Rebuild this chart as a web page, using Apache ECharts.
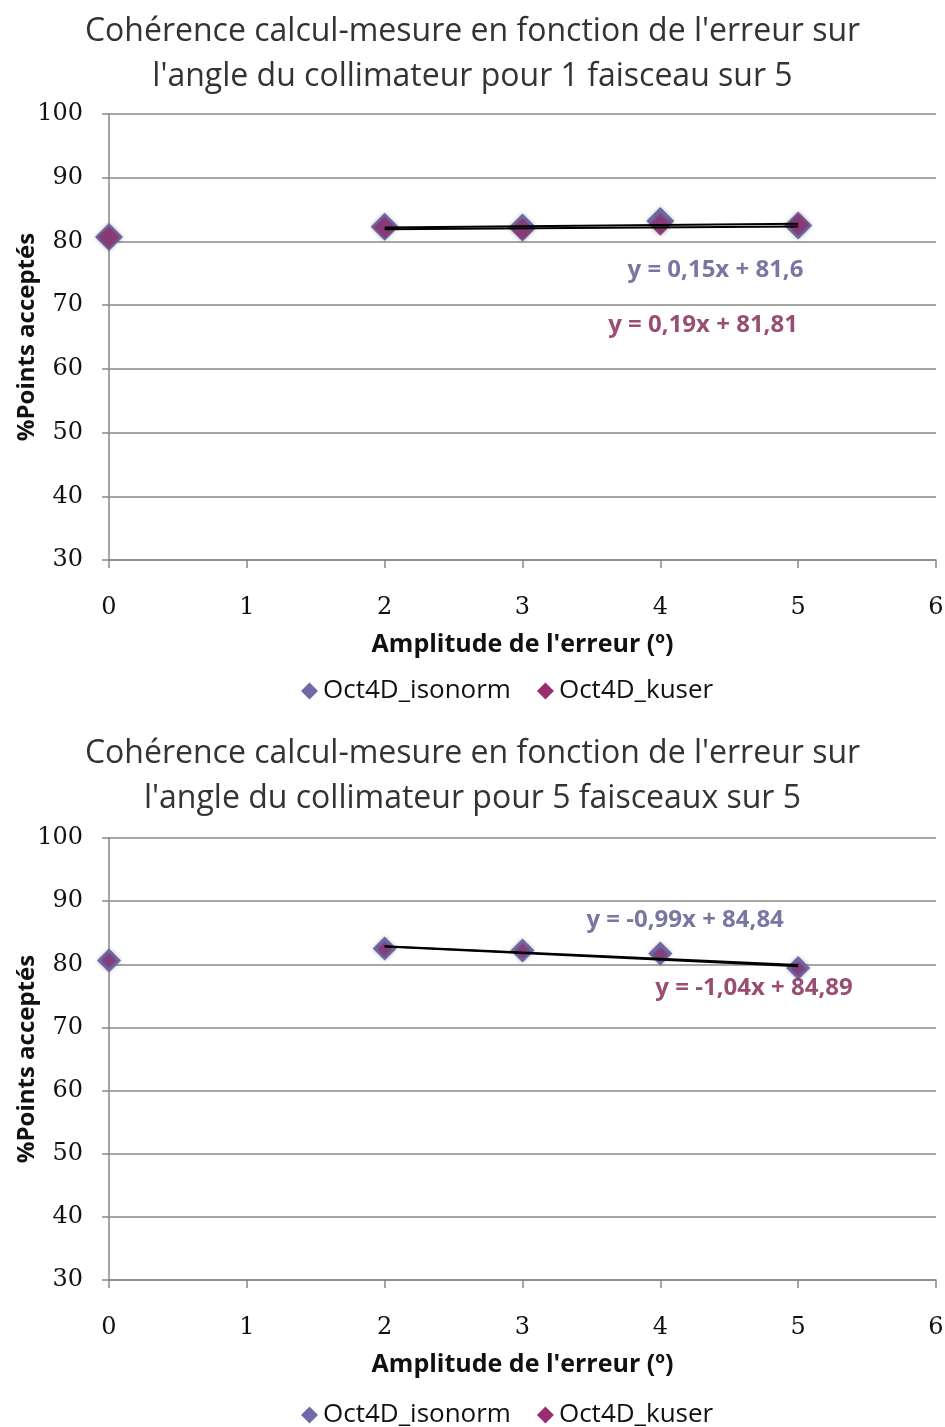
<!DOCTYPE html>
<html><head><meta charset="utf-8">
<script src="https://cdn.jsdelivr.net/npm/echarts@6/dist/echarts.min.js"></script>
<style>html,body{margin:0;padding:0;background:#fff}#c{width:945px;height:1427px}</style>
</head><body><div id="c"></div>
<script>
// ---- data ----
const xValues = [0, 2, 3, 4, 5];
const topIsonorm = [80.7, 82.3, 82.2, 83.2, 82.5];
const topKuser = [80.6, 82.2, 81.9, 82.6, 82.6];
const bottomIsonorm = [80.6, 82.5, 82.2, 81.7, 79.4];
const bottomKuser = [80.6, 82.4, 82.1, 81.5, 79.3];
const trendX = [2, 5];
const topTrendIsonorm = [81.9, 82.35];
const topTrendKuser = [82.19, 82.76];
const bottomTrendIsonorm = [82.86, 79.89];
const bottomTrendKuser = [82.81, 79.69];
const topTitle = "Cohérence calcul-mesure en fonction de l'erreur sur\nl'angle du collimateur pour 1 faisceau sur 5";
const bottomTitle = "Cohérence calcul-mesure en fonction de l'erreur sur\nl'angle du collimateur pour 5 faisceaux sur 5";
const seriesNames = ["Oct4D_isonorm", "Oct4D_kuser"];
const topEquations = ["y = 0,15x + 81,6", "y = 0,19x + 81,81"];
const bottomEquations = ["y = -0,99x + 84,84", "y = -1,04x + 84,89"];
const topEqPos = [[4.40, 75.5], [4.31, 66.9]];
const bottomEqPos = [[4.18, 87.0], [4.68, 76.2]];

const ISO = '#6f6aa6', KUS = '#9b2d6e';
const ISO_TXT = '#56558c', KUS_TXT = '#80204f';
const pair = (xs, ys) => xs.map((x, i) => [x, ys[i]]);

const chart = echarts.init(document.getElementById('c'), null, {renderer: 'canvas'});

function xAxis(gi) {
  return {
    gridIndex: gi, type: 'value', min: 0, max: 6, interval: 1,
    name: "Amplitude de l'erreur (º)", nameLocation: 'middle', nameGap: 72,
    nameTextStyle: {fontFamily: 'Open Sans', fontWeight: 'bold', fontSize: 25, color: '#111'},
    axisLine: {show: true, onZero: false, lineStyle: {color: '#888', width: 1.5}},
    axisTick: {show: true, length: 8, lineStyle: {color: '#888', width: 1.5}},
    axisLabel: {fontFamily: 'DejaVu Serif', fontSize: 24, color: '#111', margin: 36},
    splitLine: {show: false}
  };
}
function yAxis(gi) {
  return {
    gridIndex: gi, type: 'value', min: 30, max: 100, interval: 10,
    name: '%Points acceptés', nameLocation: 'middle', nameGap: 70, nameMoveOverlap: false,
    nameTextStyle: {fontFamily: 'Open Sans', fontWeight: 'bold', fontSize: 24, color: '#111'},
    axisLine: {show: true, onZero: false, lineStyle: {color: '#888', width: 1.5}},
    axisTick: {show: true, length: 7, lineStyle: {color: '#888', width: 1.5}},
    axisLabel: {fontFamily: 'DejaVu Serif', fontSize: 24, color: '#111', margin: 26},
    splitLine: {show: true, lineStyle: {color: '#8a8a8a', width: 1.5}}
  };
}
function scatter(name, gi, data, color, size, opacity, z) {
  return {
    name, type: 'scatter', xAxisIndex: gi, yAxisIndex: gi, data,
    symbol: 'diamond', symbolSize: size, z,
    itemStyle: {color, opacity, shadowBlur: 4, shadowColor: 'rgba(0,0,0,0.25)'}
  };
}
function trend(gi, data) {
  return {
    type: 'line', xAxisIndex: gi, yAxisIndex: gi, data, symbol: 'none', z: 5,
    lineStyle: {color: '#000', width: 2}, silent: true
  };
}
function eqLabels(gi, texts, pos) {
  return {
    type: 'scatter', xAxisIndex: gi, yAxisIndex: gi, silent: true, z: 10,
    symbolSize: 1, itemStyle: {color: 'rgba(0,0,0,0)'},
    data: texts.map((t, i) => ({
      value: pos[i],
      label: {show: true, formatter: t, fontFamily: 'Open Sans', fontWeight: 'bold', fontSize: 24,
        color: i === 0 ? ISO_TXT : KUS_TXT, position: 'inside'}
    }))
  };
}
const legendText = {fontFamily: 'Open Sans', fontSize: 26, color: '#111'};

chart.setOption({
  animation: false,
  backgroundColor: '#fff',
  title: [
    {text: topTitle, left: 'center', top: 4,
     textStyle: {fontFamily: 'Open Sans', fontWeight: 'normal', fontSize: 32, color: '#333', lineHeight: 45}},
    {text: bottomTitle, left: 'center', top: 726,
     textStyle: {fontFamily: 'Open Sans', fontWeight: 'normal', fontSize: 32, color: '#333', lineHeight: 45}}
  ],
  legend: [
    {top: 673, left: 296, itemWidth: 17, itemHeight: 17, itemGap: 26, textStyle: legendText,
     data: [{name: seriesNames[0], icon: 'diamond', itemStyle: {color: ISO, opacity: 1}},
            {name: seriesNames[1], icon: 'diamond', itemStyle: {color: KUS, opacity: 1}}]},
    {top: 1397, left: 296, itemWidth: 17, itemHeight: 17, itemGap: 26, textStyle: legendText,
     formatter: n => n === 'b_iso' ? seriesNames[0] : seriesNames[1],
     data: [{name: 'b_iso', icon: 'diamond', itemStyle: {color: ISO, opacity: 1}},
            {name: 'b_kus', icon: 'diamond', itemStyle: {color: KUS, opacity: 1}}]}
  ],
  grid: [
    {left: 109, right: 9, top: 114, height: 446, containLabel: false, outerBoundsMode: 'none'},
    {left: 109, right: 9, top: 838, height: 442, containLabel: false, outerBoundsMode: 'none'}
  ],
  xAxis: [xAxis(0), xAxis(1)],
  yAxis: [yAxis(0), yAxis(1)],
  series: [
    trend(0, pair(trendX, topTrendIsonorm)),
    trend(0, pair(trendX, topTrendKuser)),
    scatter(seriesNames[0], 0, pair(xValues, topIsonorm), ISO, 28, 1, 3),
    scatter(seriesNames[1], 0, pair(xValues, topKuser), KUS, 22, 0.7, 4),
    eqLabels(0, topEquations, topEqPos),
    trend(1, pair(trendX, bottomTrendIsonorm)),
    trend(1, pair(trendX, bottomTrendKuser)),
    scatter('b_iso', 1, pair(xValues, bottomIsonorm), ISO, 24, 1, 3),
    scatter('b_kus', 1, pair(xValues, bottomKuser), KUS, 15, 0.6, 4),
    eqLabels(1, bottomEquations, bottomEqPos)
  ]
});
</script></body></html>
